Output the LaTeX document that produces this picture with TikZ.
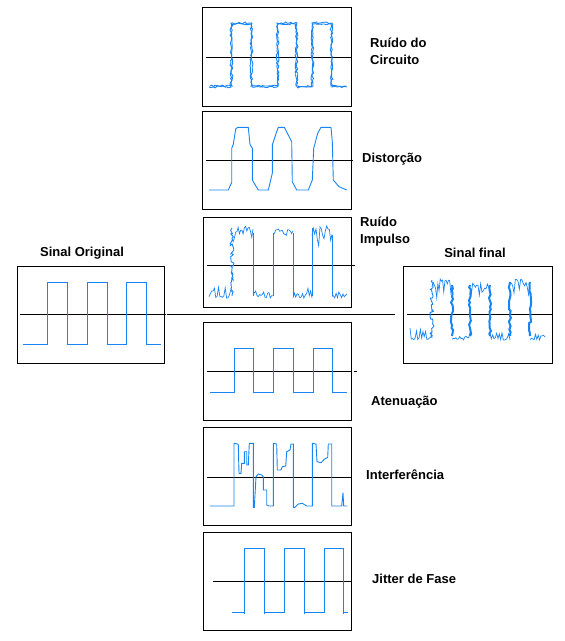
\documentclass[tikz,border=0pt]{standalone}
\usepackage{fontspec}
\setmainfont{Liberation Sans}
\usetikzlibrary{decorations.pathmorphing}
\definecolor{trace}{RGB}{22,132,245}

\begin{document}
\begin{tikzpicture}[x=1pt, y=-1pt,
  scopebox/.style={draw, line width=0.9pt, inner sep=0pt, outer sep=0pt},
  axis/.style={line width=0.8pt},
  wave/.style={trace, line width=0.9pt},
  noisy/.style={trace, line width=0.7pt},
  jitter/.style={wave, decorate, decoration={random steps, segment length=2pt, amplitude=1pt}},
  spiky/.style={wave, decorate, decoration={random steps, segment length=2pt, amplitude=2pt}},
  heavy/.style={trace, line width=2pt, decorate, decoration={random steps, segment length=3pt, amplitude=1.2pt}},
  lbl/.style={font=\bfseries\fontsize{13}{17}\selectfont, anchor=west, align=left, inner sep=0pt},
  title/.style={font=\bfseries\fontsize{13}{17}\selectfont, inner sep=0pt}]
\pgfmathsetseed{42}
\useasboundingbox (0,0) rectangle (565,641);

% scopes
\node[scopebox, minimum width=147pt, minimum height=97pt] (orig) at (90.5,314.5) {}; % Sinal Original
\node[scopebox, minimum width=149pt, minimum height=97pt] (final) at (477.5,314.5) {}; % Sinal final
\node[scopebox, minimum width=149pt, minimum height=99pt] (circuito) at (276.5,56.5) {}; % ruido do circuito
\node[scopebox, minimum width=149pt, minimum height=98pt] (distorcao) at (276.5,160) {}; % distorcao
\node[scopebox, minimum width=148pt, minimum height=90pt] (impulso) at (277,262) {}; % ruido impulso
\node[scopebox, minimum width=148pt, minimum height=98pt] (atenuacao) at (277,371) {}; % atenuacao
\node[scopebox, minimum width=148pt, minimum height=98pt] (interf) at (277,476) {}; % interferencia
\node[scopebox, minimum width=148pt, minimum height=98pt] (fase) at (277,581) {}; % jitter

% titles and labels
\node[title] (torig) at (82,253) {Sinal Original};
\node[title] (tfinal) at (475,253) {Sinal final};
\node[lbl] (lcircuito) at (370,51.5) {Ruído do\\Circuito};
\node[lbl] (ldistorcao) at (362,159) {Distorção};
\node[lbl] (limpulso) at (360,232) {Ruído\\Impulso};
\node[lbl] (latenuacao) at (371,402) {Atenuação};
\node[lbl] (linterf) at (366,475) {Interferência};
\node[lbl] (lfase) at (372,579) {Jitter de Fase};

% axes
\draw[axis] (20,314) -- (166,314) ; % orig
\draw[axis] ([xshift=3pt]orig.east) -- ([xshift=-8pt]final.west) ; % linha
\draw[axis] (407,314) -- (553,314) ; % final
\draw[axis] (206,57) -- (352,57) ; % circuito
\draw[axis] (206,160) -- (353,160) ; % distorcao
\draw[axis] (207,265) -- (355,265) ; % impulso
\draw[axis] (207,371) -- (352,371) ; % atenuacao
\draw[axis] (354,371) -- (357,371) ;
\draw[axis] (207,477) -- (352,477) ; % interferencia
\draw[axis] (213,581) -- (352,581) ; % jitter

% Sinal Original
\draw[wave] (23,344) -- (47,344) -- (47,282) -- (67,282) -- (67,344) -- (87,344) -- (87,282) -- (107,282) -- (107,344) -- (126,344) -- (126,282) -- (146,282) -- (146,344) -- (161,344) ;

% Ruido do Circuito
\draw[jitter] (209,87) -- (231,87) -- (231,23) -- (252,23) -- (252,87) -- (277,87) -- (277,23) -- (297,23) -- (297,87) -- (312,87) -- (312,23) -- (332,23) -- (332,87) -- (347,87) ;
\draw[jitter] (210,86) -- (232,86) -- (232,24) -- (251,24) -- (251,86) -- (278,86) -- (278,24) -- (296,24) -- (296,86) -- (313,86) -- (313,24) -- (331,24) -- (331,86) -- (346,86) ;

% Distorcao
\draw[wave] (209,190) -- (228.3,190) -- (231.7,182.3) -- (231.7,148.3) -- (233.3,144.3) -- (235.7,129) -- (237.7,127.3) -- (248.3,127.3) -- (250,144.3) -- (252.3,148.3) -- (252.3,180) -- (258.3,190) -- (268.3,190) -- (272.3,173.3) -- (272.3,145) -- (276.7,131.7) -- (278.3,127.3) -- (284.3,127.3) -- (291.7,141.7) -- (292.3,181.7) -- (296.7,190) -- (308.3,190) -- (312.3,180) -- (313.7,148.3) -- (317.7,133.3) -- (321,127.3) -- (331,127.3) -- (332.3,141.7) -- (333.3,180) -- (339,186.7) -- (346.7,190) ;

% Ruido Impulso
\draw[spiky] (232,296) -- (232,228) ;
\draw[wave] (253,233) -- (253,296) ;
\draw[wave] (273,296) -- (273,233) ;
\draw[wave] (293,233) -- (293,296) ;
\draw[wave] (312,296) -- (312,228) ;
\draw[wave] (332,235) -- (332,296) ;
\draw[noisy] plot[domain=209:232, samples=18] (\x, {298-12*rnd*rnd}) ;
\draw[noisy] plot[domain=253:273, samples=16] (\x, {298-12*rnd*rnd}) ;
\draw[noisy] plot[domain=293:312, samples=15] (\x, {298-12*rnd*rnd}) ;
\draw[noisy] plot[domain=332:347, samples=12] (\x, {298-8*rnd*rnd}) ;
\draw[noisy] plot[domain=232:253, samples=18] (\x, {226+22*rnd*rnd}) ;
\draw[noisy] plot[domain=273:293, samples=16] (\x, {229+16*rnd*rnd}) ;
\draw[noisy] plot[domain=312:332, samples=16] (\x, {226+22*rnd*rnd}) ;

% Sinal final
\draw[spiky] (432,338) -- (432,280) ;
\draw[heavy] (452,285) -- (452,336) ;
\draw[heavy] (470,336) -- (470,285) ;
\draw[heavy] (490,285) -- (490,336) ;
\draw[heavy] (510,336) -- (510,282) ;
\draw[heavy] (530,282) -- (530,336) ;
\draw[noisy] plot[domain=410:432, samples=18] (\x, {340-14*rnd*rnd}) ;
\draw[noisy] plot[domain=452:470, samples=15] (\x, {340-10*rnd*rnd}) ;
\draw[noisy] plot[domain=490:510, samples=16] (\x, {340-10*rnd*rnd}) ;
\draw[noisy] plot[domain=530:545, samples=12] (\x, {340-8*rnd*rnd}) ;
\draw[noisy] plot[domain=432:452, samples=18] (\x, {279+22*rnd*rnd}) ;
\draw[noisy] plot[domain=470:490, samples=16] (\x, {283+16*rnd*rnd}) ;
\draw[noisy] plot[domain=510:530, samples=16] (\x, {279+20*rnd*rnd}) ;

% Atenuacao
\draw[wave] (210,392) -- (234,392) -- (234,348) -- (253,348) -- (253,392) -- (273,392) -- (273,348) -- (293,348) -- (293,392) -- (313,392) -- (313,348) -- (332,348) -- (332,392) -- (347,392) ;

% Interferencia
\draw[wave] (210,506) -- (234,506) -- (234,443.3) -- (237.7,444) -- (238.3,445) -- (239,473.3) -- (241,473.3) -- (241.7,463.3) -- (244.3,463.3) -- (244.3,451.7) -- (246.7,451.7) -- (246.7,465) -- (248.3,465) -- (249.3,443.3) -- (253.3,443.3) -- (253.3,507.3) -- (254.3,507.3) -- (256,476.7) -- (258.3,474) -- (261.7,475) -- (263.3,476.7) -- (263.3,490) -- (266.7,490) -- (266.7,505) -- (269,506) -- (273.3,506) -- (273.3,443.3) -- (276.7,444) -- (277.3,470) -- (281,470) -- (282.3,466.7) -- (285.7,466) -- (286.7,451.7) -- (290,450) -- (291,444) -- (293.3,444) -- (293.3,507.3) -- (295,507.3) -- (298.3,504) -- (302.3,503.3) -- (306.7,506) -- (312.3,506) -- (312.3,443.3) -- (316,444) -- (317,461.7) -- (321,462.7) -- (324.3,459.3) -- (327.7,457.3) -- (328.3,444) -- (331.7,444) -- (331.7,506) -- (341.7,506) -- (343,492.7) -- (343.7,506) -- (347.3,506) ;

% Jitter de Fase
\draw[wave] (232,612) -- (244,612) -- (244,548) -- (264,548) -- (264,612) -- (284,612) -- (284,548) -- (304,548) -- (304,612) -- (324,612) -- (324,548) -- (343,548) -- (343,612) -- (348,612) ;
\draw[wave] (244,612) -- (244,614) ;
\draw[wave] (264,612) -- (264,614) ;
\draw[wave] (304,612) -- (304,614) ;
\draw[wave] (343,612) -- (343,614) ;
\end{tikzpicture}
\end{document}
